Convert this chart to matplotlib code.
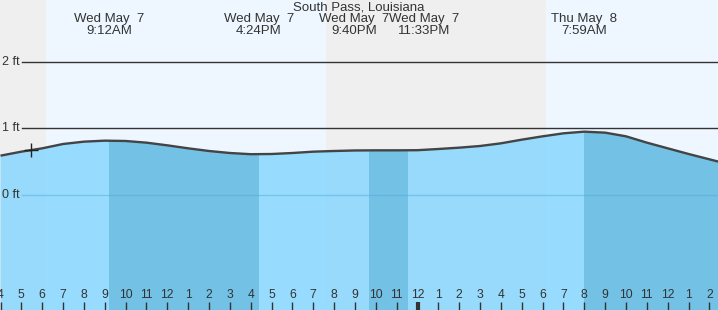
"""
潮汐图 —— South Pass, Louisiana
"""

import numpy as np
import matplotlib
matplotlib.use("Agg")
import matplotlib.pyplot as plt
import matplotlib.transforms as mtransforms

matplotlib.rcParams["font.family"] = ["Liberation Sans", "DejaVu Sans"]

# ── 数据 ──
title = "South Pass, Louisiana"

# hours since midnight May 7 / height in ft
tide_hours = [4, 5, 6, 7, 8, 9, 10, 11, 12, 13, 14, 15, 16, 17, 18, 19, 20, 21,
              22, 23, 24, 25, 26, 27, 28, 29, 30, 31, 32, 33, 34, 35, 36, 37,
              38, 38.44]
tide_feet = [0.59, 0.65, 0.70, 0.765, 0.80, 0.815, 0.81, 0.785, 0.745, 0.70,
             0.66, 0.63, 0.612, 0.615, 0.63, 0.65, 0.66, 0.668, 0.67, 0.67,
             0.672, 0.69, 0.71, 0.735, 0.775, 0.83, 0.88, 0.925, 0.95, 0.935,
             0.88, 0.785, 0.70, 0.615, 0.535, 0.50]

extreme_hours = [9.2, 16.4, 21.667, 23.55, 31.983]
extreme_days = ["Wed May  7", "Wed May  7", "Wed May  7", "Wed May  7", "Thu May  8"]
extreme_times = ["9:12AM", "4:24PM", "9:40PM", "11:33PM", "7:59AM"]
extreme_types = ["high", "low", "high", "low", "high"]

sun_rise = [6.16, 30.14]
sun_set = [19.59]

now_hour = 5.44
now_feet = 0.675

tick_hours = list(range(4, 39))
tick_labels = [str((h - 1) % 12 + 1) for h in tick_hours]
ft_levels = [0, 1, 2]

# 标签避让偏移（像素）
label_shift_px = [0, 0, -15, 16, 0]

x0, x1 = 3.976, 38.41
y0, y1 = -1.724, 2.924
PX_PER_HOUR = 20.85

GRAY = "#efefef"
DAY = "#eef7ff"
TXT = "#333333"

fig = plt.figure(figsize=(7.18, 3.10), dpi=100)
ax = fig.add_axes([0, 0, 1, 1])
ax.set_xlim(x0, x1)
ax.set_ylim(y0, y1)
ax.set_facecolor(GRAY)
ax.set_axisbelow(False)
for s in ax.spines.values():
    s.set_visible(False)

# ── 昼夜背景 ──
ax.axvspan(sun_rise[0], sun_set[0], color=DAY, lw=0, zorder=0)
ax.axvspan(sun_rise[1], x1, color=DAY, lw=0, zorder=0)

# ── 潮位填充 ──
poly = ax.fill_between(tide_hours, tide_feet, y0, color="#83d6fe", alpha=0.81,
                       lw=0, zorder=1)
clip = poly.get_paths()[0]
ends = extreme_hours[1:] + [x1]
for h, kind, e in zip(extreme_hours, extreme_types, ends):
    if kind == "high":
        span = ax.axvspan(h, e, color="#73c2e6", lw=0, zorder=2)
        span.set_clip_path(clip, ax.transData)

ax.plot(tide_hours, tide_feet, color="#444444", lw=1.7, zorder=4,
        solid_capstyle="butt", solid_joinstyle="round")
ax.plot([now_hour], [now_feet], marker="+", color="#222222", ms=10, mew=1,
        zorder=5)

# ── 水平参考线 ──
for lv in ft_levels:
    if lv == 0:
        ax.axhline(lv, xmin=22 / 718, color="#4ea8d6", lw=1, alpha=0.45, zorder=3)
    else:
        ax.axhline(lv, xmin=22 / 718, color=TXT, lw=1, zorder=3)
    ax.text(x0 + 2 / PX_PER_HOUR, lv, f"{lv} ft", ha="left", va="center",
            fontsize=9, color=TXT, zorder=6)

# ── 顶部文字 ──
trans = mtransforms.blended_transform_factory(ax.transData, ax.transAxes)
ax.text(0.5, 1 - 7 / 310, title, transform=ax.transAxes, ha="center",
        va="center", fontsize=9.5, color=TXT)
for h, d, t, dx in zip(extreme_hours, extreme_days, extreme_times, label_shift_px):
    hx = h + dx / PX_PER_HOUR
    ax.text(hx, 1 - 19 / 310, d, transform=trans, ha="center", va="center",
            fontsize=9.5, color=TXT)
    ax.text(hx, 1 - 31 / 310, t, transform=trans, ha="center", va="center",
            fontsize=9.5, color=TXT)

# ── 底部刻度 ──
ax.set_yticks([])
ax.set_xticks(tick_hours)
ax.set_xticklabels(tick_labels, fontsize=8.7, color=TXT)
ax.tick_params(axis="x", direction="in", length=5.5, width=1, color=TXT,
               pad=-14.8)
for h, tk in zip(tick_hours, ax.xaxis.get_major_ticks()):
    if h == 24:
        tk.tick1line.set_markeredgewidth(3)

fig.savefig("out.png", dpi=100)
